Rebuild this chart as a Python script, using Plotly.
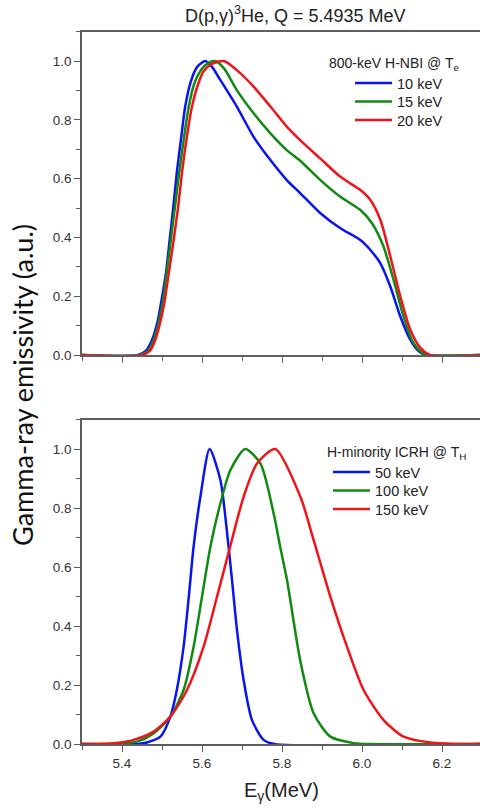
import plotly.graph_objects as go

W, H = 480, 808

# ---------------- Top panel: 800-keV H-NBI @ Te ----------------
x_nbi_10 = [5.30, 5.44, 5.46, 5.475, 5.49, 5.496, 5.51, 5.519, 5.528, 5.537, 5.548, 5.558, 5.572,
            5.588, 5.608, 5.625, 5.646, 5.687, 5.729, 5.771, 5.812, 5.846, 5.896, 5.946, 5.996,
            6.021, 6.046, 6.071, 6.096, 6.121, 6.14, 6.16, 6.30]
y_nbi_10 = [0.0, 0.0, 0.015, 0.051, 0.12, 0.164, 0.28, 0.39, 0.50, 0.62, 0.74, 0.845, 0.93,
            0.98, 1.0, 0.98, 0.935, 0.845, 0.742, 0.663, 0.595, 0.55, 0.482, 0.431, 0.391,
            0.357, 0.312, 0.232, 0.130, 0.051, 0.015, 0.0, 0.0]

x_nbi_15 = [5.30, 5.445, 5.465, 5.479, 5.50, 5.511, 5.522, 5.532, 5.543, 5.555, 5.567, 5.58,
            5.598, 5.615, 5.633, 5.655, 5.687, 5.729, 5.771, 5.812, 5.846, 5.896, 5.946, 5.996,
            6.025, 6.054, 6.079, 6.104, 6.129, 6.15, 6.165, 6.30]
y_nbi_15 = [0.0, 0.0, 0.015, 0.051, 0.164, 0.27, 0.39, 0.50, 0.62, 0.74, 0.845, 0.92,
            0.97, 0.993, 1.0, 0.975, 0.901, 0.822, 0.754, 0.697, 0.66, 0.595, 0.538, 0.493,
            0.448, 0.368, 0.255, 0.13, 0.04, 0.008, 0.0, 0.0]

x_nbi_20 = [5.30, 5.45, 5.47, 5.483, 5.504, 5.516, 5.529, 5.54, 5.55, 5.562, 5.575, 5.59,
            5.604, 5.625, 5.655, 5.687, 5.729, 5.771, 5.812, 5.846, 5.896, 5.946, 5.996,
            6.021, 6.046, 6.071, 6.096, 6.121, 6.146, 6.17, 6.30]
y_nbi_20 = [0.0, 0.0, 0.015, 0.051, 0.164, 0.27, 0.39, 0.50, 0.62, 0.74, 0.845, 0.92,
            0.965, 0.99, 1.0, 0.969, 0.913, 0.845, 0.777, 0.73, 0.668, 0.606, 0.561,
            0.527, 0.459, 0.334, 0.198, 0.085, 0.024, 0.0, 0.0]

# ---------------- Bottom panel: H-minority ICRH @ TH ----------------
x_icrh_50 = [5.30, 5.44, 5.462, 5.496, 5.521, 5.537, 5.554, 5.567, 5.579, 5.596, 5.619,
             5.646, 5.662, 5.675, 5.6875, 5.704, 5.725, 5.754, 5.78, 6.30]
y_icrh_50 = [0.0, 0.0, 0.005, 0.025, 0.093, 0.183, 0.33, 0.499, 0.669, 0.838, 1.0,
             0.895, 0.725, 0.556, 0.386, 0.217, 0.081, 0.014, 0.0, 0.0]

x_icrh_100 = [5.30, 5.40, 5.4375, 5.479, 5.521, 5.554, 5.579, 5.60, 5.621, 5.646, 5.671, 5.708,
              5.746, 5.779, 5.796, 5.8125, 5.846, 5.879, 5.921, 5.98, 6.02, 6.30]
y_icrh_100 = [0.0, 0.002, 0.008, 0.036, 0.093, 0.183, 0.33, 0.499, 0.669, 0.816, 0.929, 1.0,
              0.951, 0.782, 0.665, 0.556, 0.28, 0.104, 0.025, 0.003, 0.0, 0.0]

x_icrh_150 = [5.30, 5.36, 5.396, 5.429, 5.479, 5.521, 5.5625, 5.604, 5.6375, 5.666, 5.704, 5.7375,
              5.783, 5.846, 5.879, 5.921, 5.9625, 6.004, 6.054, 6.104, 6.171, 6.25, 6.30]
y_icrh_150 = [0.0, 0.001, 0.005, 0.014, 0.042, 0.093, 0.183, 0.33, 0.499, 0.646, 0.838, 0.951,
              1.0, 0.838, 0.692, 0.499, 0.33, 0.183, 0.081, 0.025, 0.005, 0.0, 0.0]

top_names = ["10 keV", "15 keV", "20 keV"]
bot_names = ["50 keV", "100 keV", "150 keV"]
colors = ["#0a14f0", "#118a11", "#f0141a"]

leg_font = dict(family="Liberation Sans, Arial, sans-serif", size=14.5, color="#222222")

fig = go.Figure()
top_leg_y = [83, 101.5, 120]
bot_leg_y = [472, 490.5, 509]
legends = {}
for i, (xs, ys, name, c) in enumerate(zip([x_nbi_10, x_nbi_15, x_nbi_20],
                                          [y_nbi_10, y_nbi_15, y_nbi_20], top_names, colors)):
    key = "legend" if i == 0 else f"legend{i + 1}"
    fig.add_trace(go.Scatter(x=xs, y=ys, mode="lines", name=name, xaxis="x", yaxis="y",
                             legend=key,
                             line=dict(color=c, width=2.5, shape="spline", smoothing=0.7)))
    legends[key] = dict(x=350 / W, y=(H - top_leg_y[i]) / H, xanchor="left", yanchor="middle",
                        bgcolor="rgba(0,0,0,0)", font=leg_font, itemwidth=37, borderwidth=0)
for i, (xs, ys, name, c) in enumerate(zip([x_icrh_50, x_icrh_100, x_icrh_150],
                                          [y_icrh_50, y_icrh_100, y_icrh_150], bot_names, colors)):
    key = f"legend{i + 4}"
    fig.add_trace(go.Scatter(x=xs, y=ys, mode="lines", name=name, xaxis="x2", yaxis="y2",
                             legend=key,
                             line=dict(color=c, width=2.5, shape="spline", smoothing=0.7)))
    legends[key] = dict(x=328 / W, y=(H - bot_leg_y[i]) / H, xanchor="left", yanchor="middle",
                        bgcolor="rgba(0,0,0,0)", font=leg_font, itemwidth=37, borderwidth=0)

axis_col = "#5e5e5e"
tick_font = dict(family="Liberation Sans, Arial, sans-serif", size=13.5, color="#333333")
x_dom = [82 / W, 1.0]
x_rng = [5.3, 5.3 + 398 / 400]


def xax(anchor, labels):
    return dict(domain=x_dom, range=x_rng, anchor=anchor, showgrid=False, zeroline=False,
                showline=True, linecolor=axis_col, linewidth=1.5, mirror=True,
                ticks="outside", ticklen=6, tickwidth=1.2, tickcolor=axis_col,
                tick0=5.4, dtick=0.2, tickformat=".1f", showticklabels=labels,
                tickfont=tick_font, automargin=False, layer="below traces",
                minor=dict(ticks="outside", ticklen=4, tickwidth=1.2, tickcolor=axis_col,
                           tick0=5.3, dtick=0.2, showgrid=False))


def yax(anchor, dom):
    return dict(domain=dom, range=[0, 1.1], anchor=anchor, showgrid=False, zeroline=False,
                showline=True, linecolor=axis_col, linewidth=1.5, mirror=False,
                ticks="outside", ticklen=6, tickwidth=1.2, tickcolor=axis_col,
                tick0=0, dtick=0.2, tickformat=".1f", tickfont=tick_font,
                automargin=False, layer="below traces",
                minor=dict(ticks="outside", ticklen=4, tickwidth=1.2, tickcolor=axis_col,
                           tick0=0.1, dtick=0.2, showgrid=False))


fig.update_layout(
    width=W, height=H, margin=dict(l=0, r=0, t=0, b=0),
    paper_bgcolor="white", plot_bgcolor="white", template="none",
    xaxis=xax("y", False),
    yaxis=yax("x", [(H - 355) / H, (H - 31.6) / H]),
    xaxis2=xax("y2", True),
    yaxis2=yax("x2", [(H - 744) / H, (H - 419.5) / H]),
    showlegend=True,
    **legends,
)

ann_font = dict(family="Liberation Sans, Arial, sans-serif", color="#222222")
fig.add_annotation(text="D(p,γ)<sup>3</sup>He, Q = 5.4935 MeV", x=295 / W, y=(H - 14) / H,
                   xref="paper", yref="paper", showarrow=False, xanchor="center", yanchor="middle",
                   font=dict(ann_font, size=18))
fig.add_annotation(text="800-keV H-NBI @ T<sub>e</sub>", x=327 / W, y=(H - 64) / H,
                   xref="paper", yref="paper", showarrow=False, xanchor="left", yanchor="middle",
                   font=dict(ann_font, size=14))
fig.add_annotation(text="H-minority ICRH @ T<sub>H</sub>", x=325 / W, y=(H - 453) / H,
                   xref="paper", yref="paper", showarrow=False, xanchor="left", yanchor="middle",
                   font=dict(ann_font, size=14))
fig.add_annotation(text="E<sub>γ</sub>(MeV)", x=281 / W, y=(H - 791) / H,
                   xref="paper", yref="paper", showarrow=False, xanchor="center", yanchor="middle",
                   font=dict(ann_font, size=20))
fig.add_annotation(text="Gamma-ray emissivity (a.u.)", x=22 / W, y=(H - 385) / H,
                   xref="paper", yref="paper", showarrow=False, xanchor="center", yanchor="middle",
                   textangle=-90, font=dict(family="Lato, Open Sans, sans-serif", size=27, color="#111111"))

fig.write_html("out.html")
